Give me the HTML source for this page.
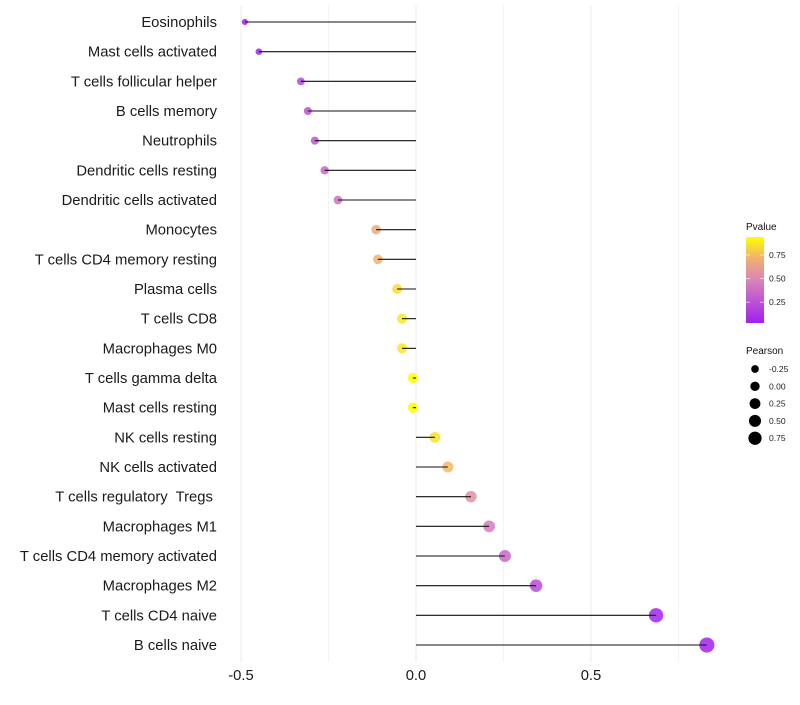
<!DOCTYPE html>
<html><head><meta charset="utf-8"><style>
body{margin:0;background:#fff;}
svg text{font-family:"Liberation Sans",sans-serif;white-space:pre;}
</style></head><body>
<svg id="chart" width="800" height="700" xmlns="http://www.w3.org/2000/svg">
<defs>
<linearGradient id="pgrad" x1="0" y1="1" x2="0" y2="0">
<stop offset="0" stop-color="#A020F0"/>
<stop offset="0.5" stop-color="#DA85B8"/>
<stop offset="0.75" stop-color="#F0B070"/>
<stop offset="1" stop-color="#FFFF00"/>
</linearGradient>
</defs>
<g id="grid"></g>
<g id="points"></g>
<g id="marks"></g>
<g id="ylabels"></g>
<g id="xlabels"></g>
<g>
<text x="746" y="230" font-size="10" fill="#111">Pvalue</text>
<rect x="746" y="237" width="18" height="86" fill="url(#pgrad)"/>
<g id="pticks"></g>
</g>
<g>
<text x="746" y="354" font-size="10" fill="#111">Pearson</text>
<g id="sizeleg"></g>
</g>
</svg>
<script>
const categories=["Eosinophils","Mast cells activated","T cells follicular helper","B cells memory","Neutrophils","Dendritic cells resting","Dendritic cells activated","Monocytes","T cells CD4 memory resting","Plasma cells","T cells CD8","Macrophages M0","T cells gamma delta","Mast cells resting","NK cells resting","NK cells activated","T cells regulatory  Tregs ","Macrophages M1","T cells CD4 memory activated","Macrophages M2","T cells CD4 naive","B cells naive"];
const pearson=[-0.489,-0.449,-0.329,-0.309,-0.289,-0.261,-0.223,-0.114,-0.109,-0.054,-0.04,-0.04,-0.009,-0.009,0.054,0.091,0.157,0.209,0.254,0.343,0.686,0.831];
const pvalue=[0.03,0.06,0.2,0.25,0.27,0.34,0.4,0.68,0.72,0.84,0.87,0.87,0.97,0.97,0.85,0.74,0.55,0.44,0.35,0.22,0.05,0.04];
const xTicks=[-0.5,0,0.5];
const xTickLabels=["-0.5","0.0","0.5"];
const pTicks=[0.25,0.5,0.75];
const pTickLabels=["0.25","0.50","0.75"];
const sizeTicks=[-0.25,0,0.25,0.5,0.75];
const sizeTickLabels=["-0.25","0.00","0.25","0.50","0.75"];

const NS="http://www.w3.org/2000/svg";
function X(v){return 416+v*350;}
function Y(i){return 22+i*(623/21);}
function R(v){return Math.sqrt(Math.max(4,27+36*v));}
function P(p){return 323-(p-0.03)/(0.94-0.03)*86;}
function hex(c){return [parseInt(c.slice(1,3),16),parseInt(c.slice(3,5),16),parseInt(c.slice(5,7),16)];}
const stops=[[0,"#A020F0"],[0.5,"#DA85B8"],[0.75,"#F0B070"],[1,"#FFFF00"]];
function col(p){let t=(p-0.03)/(0.94-0.03);t=Math.max(0,Math.min(1,t));
 for(let k=1;k<stops.length;k++){if(t<=stops[k][0]){const a=hex(stops[k-1][1]),b=hex(stops[k][1]);const f=(t-stops[k-1][0])/(stops[k][0]-stops[k-1][0]);
 return "rgb("+a.map((v,j)=>Math.round(v+(b[j]-v)*f)).join(",")+")";}}return "#FFFF00";}
function mk(tag,attrs,parent){const e=document.createElementNS(NS,tag);for(const k in attrs)e.setAttribute(k,attrs[k]);parent.appendChild(e);return e;}

const grid=document.getElementById("grid");
for(let v=-0.5;v<=0.8;v+=0.25){
 const g=mk("line",{x1:X(v),x2:X(v),y1:5,y2:662,stroke:Math.abs(v*4)%2<0.01?"#ebebeb":"#f3f3f3","stroke-width":1},grid);
 
 
}
const marks=document.getElementById("marks");
const pts=document.getElementById("points");
const yl=document.getElementById("ylabels");
categories.forEach((c,i)=>{
 const y=Y(i);
 const d=mk("circle",{cx:X(pearson[i]),cy:y,r:R(pearson[i]),fill:col(pvalue[i]),"fill-opacity":0.85},pts);
 
 
 const s=mk("line",{x1:X(0),x2:X(pearson[i]),y1:y,y2:y,stroke:"#111","stroke-width":1.1},marks);
 
 
 const t=mk("text",{x:217,y:y+5,"font-size":14.8,"text-anchor":"end",fill:"#1a1a1a"},yl);
 t.textContent=c;
 
 
});
const xl=document.getElementById("xlabels");
xTicks.forEach((v,i)=>{
 const t=mk("text",{x:X(v),y:680,"font-size":14.8,"text-anchor":"middle",fill:"#1a1a1a"},xl);
 t.textContent=xTickLabels[i];
 
 
});
const pt=document.getElementById("pticks");
pTicks.forEach((p,i)=>{
 const y=P(p);
 const l=mk("line",{x1:746,x2:750,y1:y,y2:y,stroke:"#fff","stroke-opacity":0.6},pt);
 
 
 const l2=mk("line",{x1:760,x2:764,y1:y,y2:y,stroke:"#fff","stroke-opacity":0.6},pt);
 
 
 const t=mk("text",{x:769,y:y+3,"font-size":8.5,fill:"#222"},pt);
 t.textContent=pTickLabels[i];
 
 
});
const sl=document.getElementById("sizeleg");
sizeTicks.forEach((v,i)=>{
 const y=369+i*17.3;
 const c=mk("circle",{cx:755,cy:y,r:R(v)*0.9,fill:"#000"},sl);
 
 
 const t=mk("text",{x:769,y:y+3,"font-size":8.5,fill:"#222"},sl);
 t.textContent=sizeTickLabels[i];
 
 
});
</script>
</body></html>
